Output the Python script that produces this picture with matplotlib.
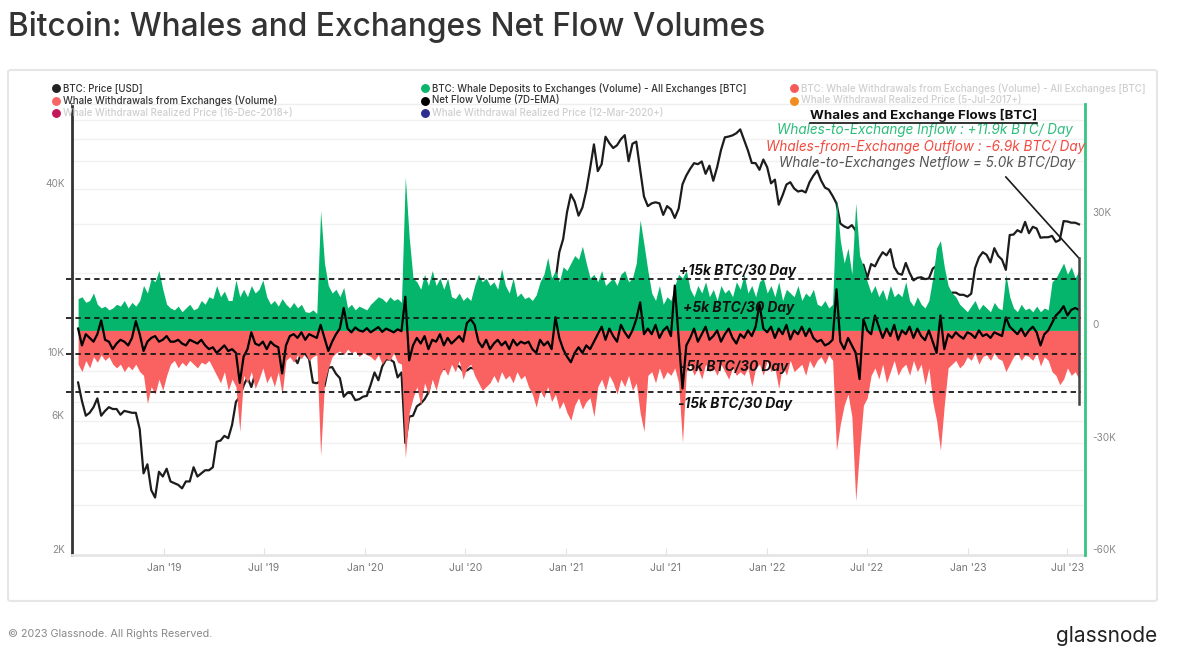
import numpy as np
import pandas as pd
import matplotlib
matplotlib.use("Agg")
import matplotlib.pyplot as plt
from matplotlib.lines import Line2D
from matplotlib.patches import FancyBboxPatch
from matplotlib.ticker import FixedLocator, NullFormatter

plt.rcParams["font.family"] = ["Inter", "DejaVu Sans"]

# weekly samples (Saturdays) starting 2018-07-28
start_date = "2018-07-28"

# BTC price [USD]
price_usd = [
    8200, 7050, 6250, 6400, 6700, 7200, 6250, 6500, 6700, 6600, 6600, 6300, 6500, 6450,
    6400, 6400, 5600, 3900, 4200, 3400, 3200, 3950, 3800,
    # 2019
    4050, 3650, 3600, 3550, 3450, 3650, 3650, 4100, 3800, 3900, 4000, 4000, 4100,
    5050, 5100, 5300, 5200, 5800, 7000, 7300, 8000, 8550, 7900, 8800, 10700, 12400,
    11300, 11400, 10600, 9500, 10800, 11300, 10300, 10150, 9600, 10500, 10350, 9950, 8200,
    8150, 8300, 7950, 9250, 9300, 8800, 8500, 7300, 7550, 7500, 7100, 7150, 7300,
    # 2020
    7350, 8050, 8900, 8350, 9350, 9900, 9900, 9700, 8550, 8900, 5000, 6200, 6250,
    6750, 6900, 7150, 7550, 8850, 9550, 9650, 9150, 9700, 9650, 9450, 9350, 9000,
    9050, 9250, 9150, 9700, 11800, 11600, 11850, 11700, 11500, 10150, 10450, 11100, 10750,
    10550, 11300, 11350, 13000, 13800, 15500, 16000, 18700, 17700, 19150, 18800, 23800, 26500,
    # 2021
    33000, 38200, 36000, 32100, 34300, 39300, 47200, 57500, 46200, 48900, 61200, 58100, 55800,
    57100, 60000, 62000, 50100, 57800, 58800, 46800, 37500, 34700, 35500, 35800, 35500, 32300,
    34700, 33800, 31500, 34000, 41500, 44600, 47100, 49300, 48900, 50000, 45200, 48300, 42700,
    47700, 54900, 60900, 61300, 61900, 63000, 65000, 59700, 54700, 49400, 49300, 46700, 50800,
    # 2022
    47700, 41800, 43100, 35100, 37900, 41400, 42200, 40100, 39100, 39400, 38800, 42200, 44500,
    46400, 42800, 40400, 39700, 37700, 35500, 30100, 29400, 29000, 29700, 28400, 20500, 21500,
    19300, 21600, 21200, 22600, 23800, 23200, 24400, 21100, 20000, 19800, 21800, 20100, 18900,
    19300, 19400, 19100, 19200, 20800, 21300, 16800, 16700, 16500, 17100, 17100, 16800, 16800, 16550,
    # 2023
    16950, 20900, 22800, 23800, 23300, 21900, 24600, 23100, 22400, 20600, 27400, 27500,
    28500, 28000, 30500, 27800, 29300, 28900, 26800, 26900, 26900, 27200, 25900, 26300, 30700,
    30600, 30300, 30300, 29900,
]

# whale deposits to exchanges [k BTC]
deposits_k = [
    8.5, 9, 7.5, 8, 10, 7, 6, 6.5, 5.5, 6, 7, 6.5, 8, 6, 7.5, 6.5, 8, 12, 10, 14, 13, 16, 11,
    7, 6, 5.5, 6.5, 5, 6, 7, 5.5, 6, 8, 7, 9, 8.5, 12, 9, 10.5, 8, 8, 13.5, 9,
    11, 9, 12, 10, 11, 13.5, 9, 7, 8, 6.5, 8.5, 7, 6, 7.5, 6, 7,
    5, 4.8, 5.5, 4.5, 32, 18, 12, 10, 11, 9, 11.5, 6, 7, 5.5, 6.5, 6, 5.5, 7,
    8, 9, 8.5, 7.5, 9, 8, 8.5, 7.5, 41, 25, 14, 13, 11, 15, 12, 16, 12, 14, 11,
    14, 9, 8.5, 10, 8, 9, 8, 12, 15, 13, 14, 12, 13, 11, 16.5, 12, 10, 14,
    9, 10, 8.5, 9, 8, 9.5, 13, 15, 19.5, 14, 16, 13, 17,
    16, 18, 20, 19, 22.5, 18, 14, 15, 13, 16, 12, 13, 14, 12, 15, 16, 13, 14,
    18, 29.5, 23, 16, 10, 8, 12, 7, 9, 8, 12, 15, 14, 16,
    11, 9, 12, 10, 13, 9, 11, 8, 12, 10, 11, 9, 13, 11, 15, 10, 12, 9, 13, 14,
    10, 12, 9, 13, 8, 11, 10, 9, 12, 8, 10, 9, 11, 7, 6.5, 8, 6, 7,
    35, 24, 18, 22, 15, 34, 20, 17, 13, 10, 12, 9, 11, 8, 12, 9, 10,
    9, 13, 8, 6.5, 9, 7, 6, 8, 14, 22, 24, 17, 12, 10, 9,
    7, 6, 5, 6.5, 8, 5.5, 7, 6, 5, 7.5, 6, 5.5, 15, 9,
    6, 5, 7, 5.5, 6, 5, 6.5, 5, 6, 5.5, 13, 14, 16, 18, 15, 17, 14, 16,
]

# whale withdrawals from exchanges [k BTC]
withdrawals_k = [
    -9, -11, -8, -10, -7, -8.5, -6.5, -8, -7, -9, -10, -9, -11, -9.5, -10.5, -9, -11,
    -12, -19.5, -15, -17, -13, -16, -12,
    -9, -8, -10, -8.5, -9.5, -8, -9, -10, -8.5, -9, -8, -10, -12, -14, -11, -16, -13, -15,
    -27, -12, -14, -11, -15.5, -13, -10, -14, -12, -15, -11, -17,
    -8, -7, -8.5, -6.5, -7.5, -6, -8, -7, -6.5, -33.5, -14, -10,
    -7, -6, -5.5, -6.5, -5, -6, -5.5, -7, -6, -6.5,
    -7, -8, -6.5, -9, -7.5, -8, -6, -8.5, -9, -34,
    -22, -18, -15, -20, -14, -17, -13, -16, -12, -10, -12, -9, -11, -8, -13, -10, -9, -12,
    -14, -16, -15, -14, -12, -14, -11, -13, -12, -14, -11, -13, -12,
    -15, -17, -20.5, -16, -18, -15, -19, -17, -21, -19, -22, -24, -20, -18, -21,
    -19, -18, -23, -15, -13, -16, -12, -14, -17, -13, -15, -12, -16, -14, -22, -27,
    -12, -11, -14, -10, -13, -11, -12, -10, -14, -30,
    -11, -9, -12, -10, -13, -9, -11, -10, -12, -9, -11, -13, -10, -12, -11, -12, -10, -15,
    -10, -9, -12, -8, -11, -10, -15.5, -9, -12, -8, -11, -10, -9, -12, -8, -10,
    -8, -7, -9, -6.5, -8, -32, -25, -20, -17, -23, -45.5, -32, -20,
    -18, -12, -10, -13, -9, -14, -11, -8, -12, -10, -9, -12, -8, -11, -9, -14.5, -10,
    -19, -24, -32, -20, -10, -9, -8, -10, -9,
    -7, -8, -6, -9, -7, -6.5, -8, -6, -7.5, -8, -11, -9,
    -7, -6, -8, -6.5, -7, -8, -6, -9.5, -7, -8, -11, -12, -14.5, -13, -10, -12, -11, -13,
]

# net flow volume, 7D-EMA [k BTC]
netflow_k = [
    0.5, -4, -1, -2, -3, -1, 2.7, -2.5, -3, -5, -3.5, -2.5, -3, -4, -2, 2.5, -1, -5.5, -3,
    -2, -1.5, -3, -2.5, -1.5, -3, -3, -2.5, -3.5, -4, -2.5, -3, -3.5, -2.5,
    -4, -5, -4.5, -6, -5, -4, -5.5, -5, -6, -14, -7, -5,
    -0.5, -3.5, -4, -3, -5, -3, -4, -4.5, -11.5, -4,
    -1.5, -1, -2, -0.5, -2.5, -1, -1.5, -2, 1.5, -2, -5.5, -3, -1, 0.5, 6,
    0.5, -0.5, 0.8, 0, -0.3, 0.6, -0.5, 0.2, 0.9, -0.4, 0.5, 0, -0.5, 0.3, -0.2, 9, -8,
    -4, -2, -3.5, -1.5, -5, -2.5, -3, -1, -4, -2, -3.5, -2.5, -1.5, -3, 2, 3, 1.5,
    -3, -4.5, -2.5, -5, -3.5, -2.5, -4, -3, -5, -2.5, -4, -3, -3.5,
    -3, -5, -6, -2.5, -4, -3, -5, 3.5, -2, -5, -7, -8.5, -6, -4.5, -6, -4, -5, -3,
    -1, 1, -2.5, 0.5, -1.5, -3, 1.5, -0.5, -2, 0, 3, 7.5, -1,
    0.5, -1, 1.5, -2, 0, 1, -1.5, 12, -2, -15.5,
    -4, -2, 0.5, -3, -1, 1, -2.5, -1.5, 0, -3, -1, 0.5, -2, -3.5,
    -1, -2, 0, -1.5, 1, 7, 0.5,
    -0.5, 1, -2, 0.5, -1, 1.5, -2.4, 0, -1, 1, -1.5, 0.5, -2, -3, -2.5, -4, -3.5, -2.5,
    11, -3, -5, -2, -4, -6, -13, 3,
    0, -1, 4, 1, -2, 0.5, -1.5, 1.5, -2.5, 0, -1, 1, -2, 0.5, -1.5, -2.6, 0,
    -3, -6, 4, -5,
    -1, -2, -0.5, -1.5, -2.2, -0.5, -1, -2, 0, -1.5, -1, -2, -0.5, -1, -1.5, 3.5,
    1, 0, -1, 0.5, -1.5, 0, 1, -0.5, -4, -1, 0, 2, 4, 5, 6.5, 4, 5.5, 6, 5.5,
]

x_tick_dates = ["2019-01-01", "2019-07-01", "2020-01-01", "2020-07-01", "2021-01-01",
                "2021-07-01", "2022-01-01", "2022-07-01", "2023-01-01", "2023-07-01"]
x_tick_labels = ["Jan '19", "Jul '19", "Jan '20", "Jul '20", "Jan '21",
                 "Jul '21", "Jan '22", "Jul '22", "Jan '23", "Jul '23"]
price_ticks = [2000, 6000, 10000, 40000]
price_tick_labels = ["2K", "6K", "10K", "40K"]
price_grid = [3000, 4000, 5000, 7000, 8000, 9000, 20000, 30000, 50000, 60000, 70000]
flow_ticks = [-60000, -30000, 0, 30000]
flow_tick_labels = ["-60K", "-30K", "0", "30K"]

band_levels_k = [13.7, 3.4, -6.4, -16.4]
band_labels = ["+15k BTC/30 Day", "+5k BTC/30 Day", "-5k BTC/30 Day", "-15k BTC/30 Day"]

legend_labels = [
    "BTC: Price [USD]",
    "Whale Withdrawals from Exchanges (Volume)",
    "Whale Withdrawal Realized Price (16-Dec-2018+)",
    "BTC: Whale Deposits to Exchanges (Volume) - All Exchanges [BTC]",
    "Net Flow Volume (7D-EMA)",
    "Whale Withdrawal Realized Price (12-Mar-2020+)",
    "BTC: Whale Withdrawals from Exchanges (Volume) - All Exchanges [BTC]",
    "Whale Withdrawal Realized Price (5-Jul-2017+)",
]
legend_colors = ["#222222", "#f86565", "#c2185b", "#0ab56e", "#000000", "#2e2e8f", "#f55a5a", "#f28c1e"]
legend_active = [True, True, False, True, True, False, False, False]

GREEN = "#05b56b"
RED = "#fa6161"

n = len(price_usd)
dates = pd.date_range(start_date, periods=n, freq="7D")
deposits = np.array(deposits_k) * 1000
withdrawals = np.array(withdrawals_k) * 1000
netflow = np.array(netflow_k) * 1000

W, H = 1179, 671
fig = plt.figure(figsize=(W / 100, H / 100), dpi=100)
fig.patch.set_facecolor("white")

# outer panel
fig.add_artist(FancyBboxPatch((8 / W, 1 - 601 / H), 1149 / W, 531 / H,
                              boxstyle="round,pad=0,rounding_size=0.003",
                              transform=fig.transFigure, facecolor="white",
                              edgecolor="#e6e6e6", lw=1.5, zorder=0))

ax = fig.add_axes([71.5 / W, 116 / H, 1013 / W, 451 / H])
ax.set_facecolor("none")
ax2 = ax.twinx()

# price (log, left)
ax.plot(dates, price_usd, color="#1c1c1c", lw=1.6)
ax.set_yscale("log")
ax.set_ylim(2000, 80000)
ax.set_xlim(pd.Timestamp("2018-07-16"), pd.Timestamp("2023-08-01"))
ax.yaxis.set_major_locator(FixedLocator(price_ticks))
ax.set_yticklabels(price_tick_labels)
ax.yaxis.set_minor_locator(FixedLocator(price_grid))
ax.yaxis.set_minor_formatter(NullFormatter())
ax.grid(axis="y", which="both", color="#f1f1f1", lw=1)
ax.set_axisbelow(True)
ax.tick_params(axis="y", which="both", length=0, labelsize=7.2, labelcolor="#8a8a8a", pad=5)
plt.setp(ax.get_yticklabels(), va="bottom")

ax.set_xticks(pd.to_datetime(x_tick_dates))
ax.set_xticklabels(x_tick_labels)
ax.tick_params(axis="x", direction="in", length=5, color="#e3e3e3", labelsize=7.5,
               labelcolor="#777777", pad=5.5)

ax.spines["left"].set_color("#333333")
ax.spines["left"].set_linewidth(2)
ax.spines["bottom"].set_color("#e6e6e6")
ax.spines["bottom"].set_linewidth(2)
ax.spines["top"].set_color("#eeeeee")
ax.spines["top"].set_linewidth(1)
ax.spines["right"].set_visible(False)

# flows (right)
ax2.fill_between(dates, 0, deposits, color=GREEN, lw=0, zorder=2)
ax2.fill_between(dates, 0, withdrawals, color=RED, lw=0, zorder=2)
ax2.plot(dates, netflow, color="black", lw=1.6, zorder=4)
ax2.set_ylim(-60000, 60500)
ax2.set_yticks(flow_ticks)
ax2.set_yticklabels(flow_tick_labels)
ax2.tick_params(axis="y", length=0, labelsize=7.2, labelcolor="#8a8a8a", pad=5.5)
plt.setp(ax2.get_yticklabels(), va="bottom")
for s in ["left", "top", "bottom"]:
    ax2.spines[s].set_visible(False)
ax2.spines["right"].set_color("#38c480")
ax2.spines["right"].set_linewidth(2)

# dashed band lines with labels
offsets = [5.8, 7.2, -9.4, -8.6]
label_x = [0.5997, 0.6036, 0.6007, 0.5988]
for lvl, lab, off, lx in zip(band_levels_k, band_labels, offsets, label_x):
    ax2.axhline(lvl * 1000, xmin=-0.005, xmax=0.997, clip_on=False, color="#1a1a1a",
                lw=1.3, ls=(0, (3, 2.2)), zorder=5)
    ax2.annotate(lab, xy=(lx, lvl * 1000), xycoords=ax2.get_yaxis_transform(),
                 xytext=(0, off), textcoords="offset points", ha="left", va="center",
                 fontsize=9.9, fontweight="bold", fontstyle="italic", color="#111111", zorder=6)

# summary block
hdr = ax2.text(0.841, 0.9756, "Whales and Exchange Flows [BTC]", transform=ax2.transAxes,
               ha="center", va="center", fontsize=9.6, fontweight="bold", color="#111111", zorder=6)
ax2.text(0.8421, 0.9424, "Whales-to-Exchange Inflow : +11.9k BTC/ Day", transform=ax2.transAxes,
         ha="center", va="center", fontsize=9.75, fontstyle="italic", color="#2dbd7b", zorder=6)
ax2.text(0.843, 0.9053, "Whales-from-Exchange Outflow : -6.9k BTC/ Day", transform=ax2.transAxes,
         ha="center", va="center", fontsize=9.75, fontstyle="italic", color="#f24a40", zorder=6)
ax2.text(0.845, 0.8685, "Whale-to-Exchanges Netflow = 5.0k BTC/Day", transform=ax2.transAxes,
         ha="center", va="center", fontsize=9.75, fontstyle="italic", color="#555555", zorder=6)

# pointer to the latest value
ax2.plot([pd.Timestamp("2023-03-11"), dates[-1]], [41000, 19300], color="#1a1a1a", lw=1.2, zorder=6)
ax2.plot([dates[-1], dates[-1]], [19300, -19600], color="#444444", lw=1.8, zorder=6)

# legend (figure level)
rows_y = [1 - 88 / H, 1 - 100.5 / H, 1 - 113 / H]
cols_x = [56 / W, 425 / W, 794 / W]
slots = [(0, 0), (0, 1), (0, 2), (1, 0), (1, 1), (1, 2), (2, 0), (2, 1)]
for (c, r), lab, col, act in zip(slots, legend_labels, legend_colors, legend_active):
    fig.add_artist(Line2D([cols_x[c]], [rows_y[r]], marker="o", markersize=5.4, color=col,
                          lw=0, transform=fig.transFigure))
    fig.text(cols_x[c] + 7 / W, rows_y[r], lab, fontsize=7.0, fontweight=500, va="center",
             ha="left", color="#333333" if act else "#cfcfcf")

# titles & footer
fig.text(8 / W, 1 - 27 / H, "Bitcoin: Whales and Exchanges Net Flow Volumes", fontsize=22.8,
         fontweight=500, va="center", ha="left", color="#333333")
fig.text(8 / W, 1 - 634 / H, "\u00a9 2023 Glassnode. All Rights Reserved.", fontsize=7.8,
         va="center", ha="left", color="#888888")
fig.text(1157 / W, 1 - 636 / H, "glassnode", fontsize=15, va="center", ha="right",
         color="#222222")

# underline the summary header
fig.canvas.draw()
bb = hdr.get_window_extent()
fig.add_artist(Line2D([bb.x0 / W, bb.x1 / W], [(bb.y0 - 1) / H, (bb.y0 - 1) / H],
                      color="#111111", lw=1.2, transform=fig.transFigure))

fig.savefig("out.png", dpi=100)
